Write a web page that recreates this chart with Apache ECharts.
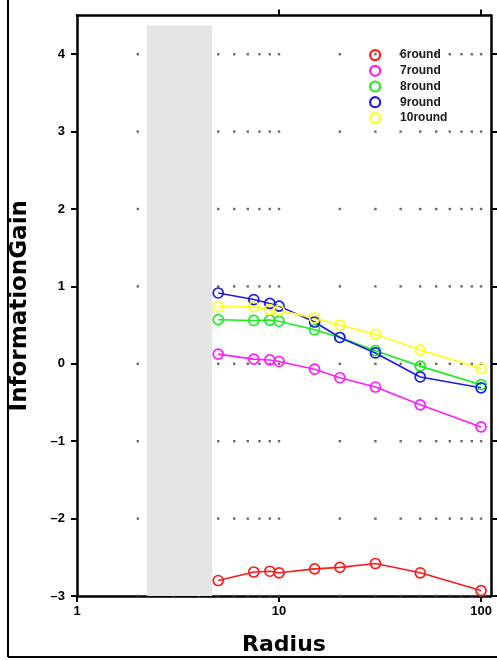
<!DOCTYPE html>
<html>
<head>
<meta charset="utf-8">
<script src="https://cdn.jsdelivr.net/npm/echarts@6/dist/echarts.min.js"></script>
<style>
html,body{margin:0;padding:0;background:#fff;}
#chart{width:497px;height:661px;}
</style>
</head>
<body>
<div id="chart"></div>
<script>
// ---- data ----
var radius = [5, 7.5, 9, 10, 15, 20, 30, 50, 100];
var round6 = [-2.80, -2.69, -2.68, -2.70, -2.65, -2.63, -2.58, -2.70, -2.93];
var round7 = [0.125, 0.06, 0.05, 0.03, -0.07, -0.18, -0.30, -0.53, -0.815];
var round8 = [0.57, 0.56, 0.565, 0.55, 0.44, 0.34, 0.17, -0.03, -0.27];
var round9 = [0.915, 0.83, 0.78, 0.745, 0.54, 0.34, 0.14, -0.17, -0.31];
var round10 = [0.74, 0.74, 0.70, 0.69, 0.59, 0.50, 0.38, 0.18, -0.06];
var seriesNames = ['6round', '7round', '8round', '9round', '10round'];
var seriesColors = ['#ff1a1a', '#ff1aff', '#1aee1a', '#1a1aee', '#ffff1a'];
var xTickValues = [1, 10, 100];
var yTickValues = [-3, -2, -1, 0, 1, 2, 3, 4];
var gridDotX = [2, 3, 4, 5, 6, 7, 8, 9, 10, 20, 30, 40, 50, 60, 70, 80, 90, 100];
var bandX = [2.22, 4.66];
var bandY = [-3, 4.37];

var allRounds = [round6, round7, round8, round9, round10];

var dots = [];
gridDotX.forEach(function (x) {
  yTickValues.forEach(function (y) { dots.push([x, y]); });
});

var fontFam = '"Liberation Sans", Arial, sans-serif';
var nameFam = '"DejaVu Sans", sans-serif';

var lineSeries = seriesNames.map(function (name, i) {
  return {
    name: name,
    type: 'line',
    z: 3,
    color: seriesColors[i],
    data: radius.map(function (r, j) { return [r, allRounds[i][j]]; }),
    symbol: 'circle',
    symbolSize: 10,
    itemStyle: { color: 'rgba(0,0,0,0)', borderColor: seriesColors[i], borderWidth: 1.7 },
    lineStyle: { color: seriesColors[i], width: 1.6 },
    emphasis: { disabled: true },
    animation: false
  };
});

var chart = echarts.init(document.getElementById('chart'), null, { renderer: 'canvas' });

var axisLineStyle = { color: '#000', width: 2.5 };
var tickStyle = { color: '#000', width: 2 };

var option = {
  animation: false,
  backgroundColor: '#fff',
  grid: { left: 77, right: 6, top: 15.5, bottom: 65, containLabel: false },
  legend: {
    orient: 'vertical',
    left: 364,
    top: 44,
    itemWidth: 30,
    itemHeight: 10,
    itemGap: 3.5,
    selectedMode: false,
    textStyle: { fontFamily: fontFam, fontWeight: 'bold', fontSize: 12, color: '#1a1a1a', padding: [0, 0, 0, 5] },
    data: seriesNames.map(function (n, i) {
      return { name: n, icon: 'circle', itemStyle: { color: 'rgba(0,0,0,0)', borderColor: seriesColors[i], borderWidth: 2.2 } };
    })
  },
  xAxis: [
    {
      type: 'log', logBase: 10, min: 1, max: 112,
      position: 'bottom',
      name: 'Radius', nameLocation: 'middle', nameGap: 38,
      nameTextStyle: { fontFamily: nameFam, fontWeight: 'bold', fontSize: 22, color: '#000' },
      axisLine: { show: true, onZero: false, lineStyle: axisLineStyle },
      axisTick: { show: true, inside: false, length: 6, lineStyle: tickStyle, customValues: xTickValues },
      axisLabel: { show: true, margin: 9, fontFamily: fontFam, fontWeight: 'bold', fontSize: 13, color: '#000', customValues: xTickValues },
      splitLine: { show: false }, minorTick: { show: false }
    },
    {
      type: 'log', logBase: 10, min: 1, max: 112,
      position: 'top',
      axisLine: { show: true, onZero: false, lineStyle: axisLineStyle },
      axisTick: { show: true, inside: false, length: 6, lineStyle: tickStyle, customValues: [10, 100] },
      axisLabel: { show: false },
      splitLine: { show: false }
    }
  ],
  yAxis: [
    {
      type: 'value', min: -3, max: 4.5, interval: 1,
      position: 'left',
      name: 'InformationGain', nameLocation: 'middle', nameGap: 45,
      nameTextStyle: { fontFamily: nameFam, fontWeight: 'bold', fontSize: 23, color: '#000' },
      axisLine: { show: true, onZero: false, lineStyle: axisLineStyle },
      axisTick: { show: true, inside: false, length: 6, lineStyle: tickStyle, customValues: yTickValues },
      axisLabel: {
        show: true, margin: 12, fontFamily: fontFam, fontWeight: 'bold', fontSize: 13, color: '#000',
        customValues: yTickValues,
        formatter: function (v) { return String(v).replace('-', '\u2013'); }
      },
      splitLine: { show: false }
    },
    {
      type: 'value', min: -3, max: 4.5, interval: 1,
      position: 'right',
      axisLine: { show: true, onZero: false, lineStyle: axisLineStyle },
      axisTick: { show: true, inside: false, length: 6, lineStyle: tickStyle, customValues: yTickValues },
      axisLabel: { show: false },
      splitLine: { show: false }
    }
  ],
  series: [
    {
      name: 'gridDots', type: 'scatter', z: 0, silent: true,
      symbol: 'rect', symbolSize: 2.4,
      itemStyle: { color: '#444' },
      data: dots, animation: false
    },
    {
      name: 'band', type: 'line', z: 2, silent: true, data: [],
      markArea: {
        silent: true, z: 2,
        itemStyle: { color: '#e5e5e5' },
        data: [[{ xAxis: bandX[0], yAxis: bandY[0] }, { xAxis: bandX[1], yAxis: bandY[1] }]]
      }
    }
  ].concat(lineSeries),
  graphic: [
    { type: 'line', shape: { x1: 8, y1: 0, x2: 8, y2: 657 }, style: { stroke: '#000', lineWidth: 2 }, z: 100 },
    { type: 'line', shape: { x1: 8, y1: 657, x2: 497, y2: 657 }, style: { stroke: '#000', lineWidth: 2 }, z: 100 }
  ]
};
chart.setOption(option);
</script>
</body>
</html>
